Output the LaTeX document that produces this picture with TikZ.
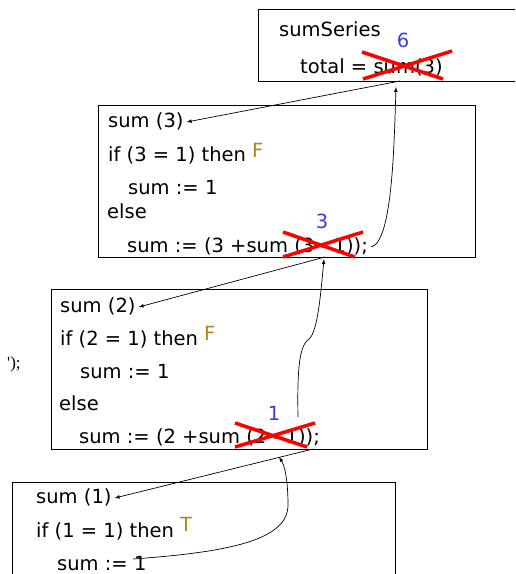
\documentclass[tikz,border=0pt]{standalone}
\usepackage{fontspec}
\setmainfont{DejaVu Sans}
\newfontfamily\timesfont{Liberation Serif}

\definecolor{numblue}{RGB}{60,60,220}
\definecolor{flagbrown}{RGB}{180,130,30}

\begin{document}
\begin{tikzpicture}[x=1pt,y=-1pt]

\tikzset{frame/.style = {draw, line width=0.8pt, anchor=north west, inner sep=0pt}}
\tikzset{code/.style = {anchor=base west, inner xsep=3pt, inner ysep=0pt, text height=14pt, text depth=4pt, font=\fontsize{19.5}{23}\selectfont}}
\tikzset{value/.style = {anchor=base, inner sep=0pt, text=numblue, font=\fontsize{19.5}{23}\selectfont}}
\tikzset{flag/.style = {anchor=base west, inner sep=0pt, text=flagbrown, font=\fontsize{19.5}{23}\selectfont}}
\tikzset{cross/.style = {red, line width=3.5pt}}
\tikzset{edge/.style = {->,> = latex, line width=0.7pt}}

\useasboundingbox (0,0) rectangle (515,574);
\clip (0,0) rectangle (515,574);

% sumSeries
\node[frame, minimum width=262pt, minimum height=72pt] (series) at (258,9) {};
\node[code] (name) at (276,36) {sumSeries};
\node[code] (total) at (297,73) {total = sum(3)};
\node[value] (v6) at (403,47) {6};
\draw[cross] (362,52) -- (443,79) (363,79) -- (452,51);

% sum (3)
\node[frame, minimum width=377pt, minimum height=152pt] (call3) at (98,105) {};
\node[code] (head3) at (105,127) {sum (3)};
\node[code] (test3) at (105,161) {if (3 = 1) then};
\node[flag] (f3) at (252,157) {F};
\node[code] (one3) at (125,194) {sum := 1};
\node[code] (else3) at (104,218) {else};
\node[code] (rec3) at (124,252) {sum := (3 +sum (3 - 1));};
\node[value] (v3) at (322,228) {3};
\draw[cross] (283,232) -- (355,257) (283,257) -- (363,232);

% sum (2)
\node[frame, minimum width=376pt, minimum height=160pt] (call2) at (51,289) {};
\node[code] (head2) at (57,312) {sum (2)};
\node[code] (test2) at (57,345) {if (2 = 1) then};
\node[flag] (f2) at (204,340) {F};
\node[code] (one2) at (77,378) {sum := 1};
\node[code] (else2) at (56,410) {else};
\node[code] (rec2) at (76,443) {sum := (2 +sum (2 - 1));};
\node[value] (v1) at (274,420) {1};
\draw[cross] (235,423) -- (307,447) (235,447) -- (315,423);

% sum (1)
\node[frame, minimum width=383pt, minimum height=130pt] (call1) at (12,482) {};
\node[code] (head1) at (33,503) {sum (1)};
\node[code] (test1) at (33,537) {if (1 = 1) then};
\node[flag] (t1) at (180,531) {T};
\node[code] (one1) at (54,570) {sum := 1};

\node[anchor=base west, inner sep=0pt, font=\timesfont\fontsize{17}{19}\selectfont] (stray) at (7,368) {\textquotesingle);};

% calls
\coordinate (out3) at (400,81);
\coordinate (out2) at (325,257);
\coordinate (out1) at (313,449);
\draw[edge] (out3) -- (head3.east);
\draw[edge] (out2) -- (head2.east);
\draw[edge] (out1) -- (head1.east);

% returns
\coordinate (back3) at (396,87);
\coordinate (back2) at (324,259);
\coordinate (back1) at (279,457);
\coordinate (up1) at (298,417);
\coordinate (done1) at (133,559);
\draw[edge] (rec3.east) .. controls (392,242) and (394,150) .. (back3);
\draw[edge] (up1) .. controls (297,365) and (300,345) .. (309,339) .. controls (318,332) and (321,290) .. (back2);
\draw[edge] (done1) .. controls (230,552) and (288,540) .. (288,505) .. controls (288,482) and (285,466) .. (back1);

\end{tikzpicture}
\end{document}
